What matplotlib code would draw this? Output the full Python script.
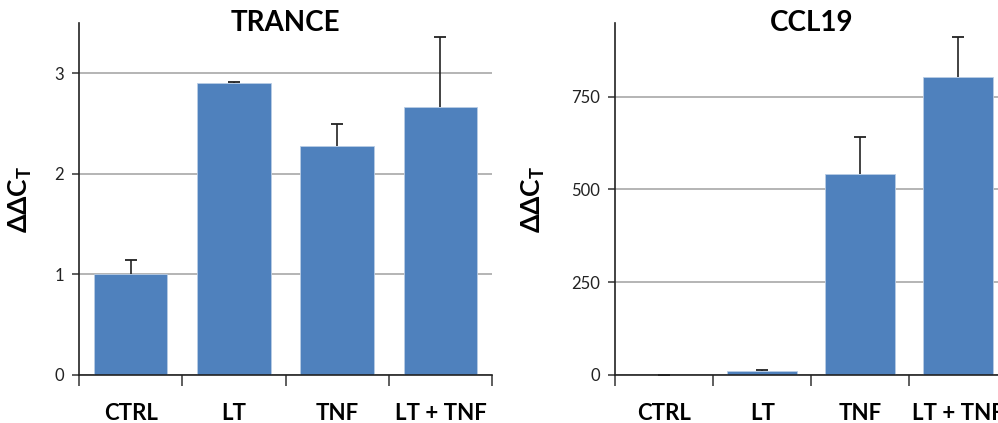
import numpy as np
import matplotlib.pyplot as plt

# =====================
# Data
# =====================

categories = ["CTRL", "LT", "TNF", "LT + TNF"]

trance_vals = [1.0, 2.90, 2.28, 2.66]
trance_err = [0.14, 0.01, 0.22, 0.70]

ccl19_vals = [1.0, 11, 540, 802]
ccl19_err = [0.2, 2, 102, 109]

plt.rcParams["font.family"] = ["Lato", "DejaVu Sans"]
plt.rcParams["mathtext.fontset"] = "custom"
plt.rcParams["mathtext.bf"] = "Lato:bold"
plt.rcParams["mathtext.rm"] = "Lato"

bar_color = "#4F81BD"

fig = plt.figure(figsize=(9.98, 4.23), dpi=100)

ax1 = fig.add_axes([0.0792, 0.1135, 0.4138, 0.8321])
ax2 = fig.add_axes([0.6165, 0.1135, 0.3928, 0.8321])


def draw_panel(ax, vals, err, title, ymax, yticks, label_x):
    x = np.arange(len(categories))
    vals = np.array(vals)
    err = np.array(err)
    ax.bar(x, vals, width=0.71, color=bar_color,
           edgecolor="#B9CDE5", linewidth=0.6, zorder=2)
    # one-sided error bars, cap only at the top
    ax.errorbar(x, vals, yerr=[np.zeros(len(err)), err], fmt="none",
                ecolor="#222222", elinewidth=1.2, capsize=0, zorder=3)
    ax.plot(x, vals + err, linestyle="none", marker="_",
            markersize=8, markeredgewidth=1.3, color="#222222",
            zorder=3)

    ax.set_xlim(-0.5, len(categories) - 0.5)
    ax.set_ylim(0, ymax)

    ax.set_yticks(yticks)
    ax.set_yticklabels([str(t) for t in yticks], fontsize=12,
                       color="#222222")
    ax.yaxis.grid(True, color="#A0A0A0", linewidth=1.1, zorder=0)
    ax.set_axisbelow(True)

    # category boundaries as major ticks, labels on minor ticks
    ax.set_xticks(np.arange(-0.5, len(categories), 1.0))
    ax.set_xticklabels([])
    ax.set_xticks(x, minor=True)
    ax.set_xticklabels(categories, minor=True, fontsize=16,
                       fontweight="bold")
    ax.tick_params(axis="x", which="major", length=8, width=1.1,
                   color="#333333")
    ax.tick_params(axis="x", which="minor", length=0, pad=20)
    ax.tick_params(axis="y", length=5, width=1.1, color="#333333",
                   pad=6)

    for side in ["top", "right"]:
        ax.spines[side].set_visible(False)
    for side in ["left", "bottom"]:
        ax.spines[side].set_color("#222222")
        ax.spines[side].set_linewidth(1.2)

    ax.text(0.5, 1.0, title, transform=ax.transAxes, ha="center",
            va="center", fontsize=20, fontweight="bold")

    ax.set_ylabel(r"$\mathbf{\Delta\Delta C_T}$", fontsize=19)
    ax.yaxis.set_label_coords(label_x, 0.5)


draw_panel(ax1, trance_vals, trance_err, "TRANCE", 3.5,
           [0, 1, 2, 3], -0.11)
draw_panel(ax2, ccl19_vals, ccl19_err, "CCL19", 948,
           [0, 250, 500, 750], -0.175)

plt.savefig("out.png", dpi=100)
